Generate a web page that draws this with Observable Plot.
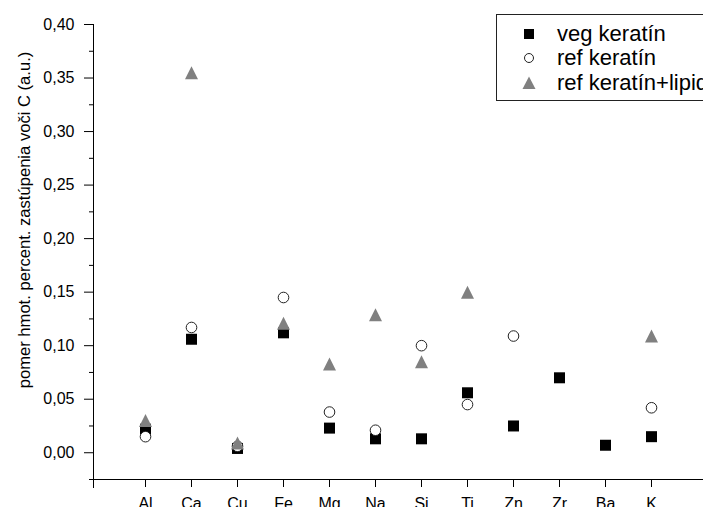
<!DOCTYPE html>
<html>
<head>
<meta charset="utf-8">
<script src="https://cdn.jsdelivr.net/npm/d3@7"></script>
<script src="https://cdn.jsdelivr.net/npm/@observablehq/plot@0.6"></script>
<style>
  body { margin: 0; background: #fff; }
  #chart { position: relative; width: 703px; height: 507px; overflow: hidden;
           font-family: "Liberation Sans", Arial, sans-serif; background: #fff; }
  #chart svg.plot { position: absolute; left: 0; top: 0; }
  .legend { position: absolute; left: 496px; top: 14px; width: 240px; height: 87px;
            border: 1px solid #222; box-sizing: border-box; background: #fff; }
  .legend .row { position: absolute; left: 0; height: 24px; }
  .legend svg { position: absolute; left: 25px; }
  .legend span { position: absolute; left: 60px; top: 0; white-space: nowrap; font-size: 22px; color: #000; line-height: 24px; }
</style>
</head>
<body>
<div id="chart"></div>
<script>
// Element categories on the x axis
const elements = ["Al", "Ca", "Cu", "Fe", "Mg", "Na", "Si", "Ti", "Zn", "Zr", "Ba", "K"];

// Weight-percent ratio to carbon for each sample (null = not measured)
const vegKeratin      = [0.022, 0.106, 0.004, 0.112, 0.023, 0.013, 0.013, 0.056, 0.025, 0.070, 0.007, 0.015];
const refKeratin      = [0.015, 0.117, 0.006, 0.145, 0.038, 0.021, 0.100, 0.045, 0.109, null, null, 0.042];
const refKeratinLipid = [0.030, 0.355, 0.009, 0.121, 0.083, 0.129, 0.085, 0.150, null, null, null, 0.109];

const seriesNames = ["veg keratín", "ref keratín", "ref keratín+lipid"];

// Axis ticks
const yMajorTicks = [0, 0.05, 0.10, 0.15, 0.20, 0.25, 0.30, 0.35, 0.40];
const yMinorTicks = [-0.025, 0.025, 0.075, 0.125, 0.175, 0.225, 0.275, 0.325, 0.375];
const yDomain = [-0.025, 0.40];
const yLabel = "pomer hmot. percent. zastúpenia voči C (a.u.)";

// Decimal comma formatting
const fmt = d3.formatLocale({decimal: ",", thousands: " ", grouping: [3], currency: ["", ""]}).format(".2f");

const rows = arr => elements.map((el, i) => ({el, v: arr[i]})).filter(d => d.v != null);

// Marker shapes sized by r (half-width)
const squareSym = {draw(ctx, size) { const h = Math.sqrt(size / Math.PI); ctx.rect(-h, -h, 2 * h, 2 * h); }};
const triangleSym = {draw(ctx, size) { const h = Math.sqrt(size / Math.PI); ctx.moveTo(0, -h); ctx.lineTo(h, h); ctx.lineTo(-h, h); ctx.closePath(); }};

const plot = Plot.plot({
  width: 703,
  height: 507,
  marginLeft: 93,
  marginRight: 0,
  marginTop: 24,
  marginBottom: 28,
  style: {fontFamily: '"Liberation Sans", Arial, sans-serif', fontSize: "16px", color: "#000", background: "#fff"},
  x: {type: "point", domain: elements, padding: 1},
  y: {domain: yDomain},
  marks: [
    Plot.frame({anchor: "left", stroke: "#000", insetBottom: -8}),
    Plot.frame({anchor: "bottom", stroke: "#000"}),
    Plot.axisY(yMajorTicks, {tickSize: 9, tickPadding: 10, tickFormat: fmt, label: null, fontSize: "16px", stroke: "#000"}),
    Plot.axisY(yMinorTicks, {tickSize: 4, tickFormat: () => "", label: null, stroke: "#000"}),
    Plot.axisX(elements, {tickSize: 8, tickPadding: 10, label: null, fontSize: "16px", stroke: "#000"}),
    Plot.text([yLabel], {frameAnchor: "left", textAnchor: "middle", rotate: -90, dx: -69, dy: -32, fontSize: 16.6, fill: "#000"}),
    Plot.dot(rows(vegKeratin), {x: "el", y: "v", symbol: squareSym, r: 5.5, fill: "#000", stroke: "none"}),
    Plot.dot(rows(refKeratin), {x: "el", y: "v", symbol: "circle", r: 5.3, fill: "#fff", stroke: "#222", strokeWidth: 1}),
    Plot.dot(rows(refKeratinLipid), {x: "el", y: "v", symbol: triangleSym, r: 6.5, fill: "#808080", stroke: "none"})
  ]
});

const chart = document.getElementById("chart");
chart.appendChild(plot);

// Legend box
const legend = document.createElement("div");
legend.className = "legend";
const swatches = [
  '<rect x="2" y="2" width="10" height="10" fill="#000"/>',
  '<circle cx="7" cy="7" r="4.5" fill="#fff" stroke="#222" stroke-width="1"/>',
  '<path d="M7,0.5L13.5,13L0.5,13Z" fill="#808080"/>'
];
const rowTops = [7, 31, 56];
seriesNames.forEach((name, i) => {
  const row = document.createElement("div");
  row.className = "row";
  row.style.top = rowTops[i] + "px";
  row.innerHTML = `<svg width="14" height="14" style="top:5px">${swatches[i]}</svg><span>${name}</span>`;
  legend.appendChild(row);
});
chart.appendChild(legend);
</script>
</body>
</html>
